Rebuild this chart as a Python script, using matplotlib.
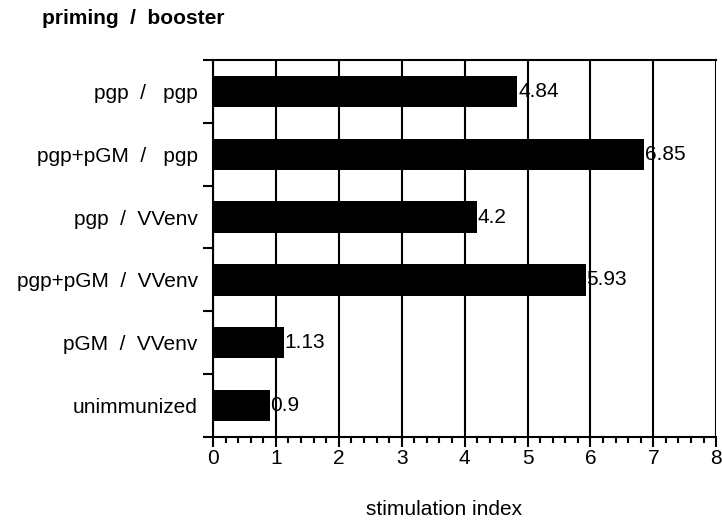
import numpy as np
import matplotlib.pyplot as plt
from matplotlib.ticker import MultipleLocator, FixedLocator

plt.rcParams['font.family'] = ['Liberation Sans', 'DejaVu Sans']

groups = ['pgp  /   pgp', 'pgp+pGM  /   pgp', 'pgp  /  VVenv',
          'pgp+pGM  /  VVenv', 'pGM  /  VVenv', 'unimmunized']
values = [4.84, 6.85, 4.2, 5.93, 1.13, 0.9]
value_labels = ['4.84', '6.85', '4.2', '5.93', '1.13', '0.9']

fs = 15

fig = plt.figure(figsize=(7.22, 5.27), dpi=100)
ax = fig.add_axes([0.295, 0.171, 0.697, 0.715])

pos = np.arange(len(groups))
ax.barh(pos, values, height=0.5, color='black', zorder=3)

# value labels at bar ends
for p, v, s in zip(pos, values, value_labels):
    ax.text(v + 0.01, p, s, va='center', ha='left', fontsize=fs, zorder=4)

ax.set_xlim(0, 8)
ax.set_ylim(len(groups) - 0.5, -0.5)

ax.xaxis.set_major_locator(MultipleLocator(1))
ax.xaxis.set_minor_locator(MultipleLocator(0.2))
ax.grid(axis='x', which='major', color='black', linewidth=1.5, zorder=1)

ax.set_yticks(pos)
ax.set_yticklabels(groups, fontsize=fs)
ax.yaxis.set_minor_locator(FixedLocator(np.arange(-0.5, len(groups), 1.0)))
ax.tick_params(axis='y', which='major', length=0, pad=11)
ax.tick_params(axis='y', which='minor', length=7, width=1.5, direction='out')
ax.tick_params(axis='x', which='major', length=7, width=1.5, direction='out',
               labelsize=fs, pad=2)
ax.tick_params(axis='x', which='minor', length=4, width=1.5, direction='out')

for side in ['top', 'bottom', 'left', 'right']:
    ax.spines[side].set_linewidth(1.5)
ax.spines['right'].set_visible(False)

ax.set_xlabel('stimulation index', fontsize=fs)
ax.xaxis.set_label_coords(0.46, -0.168)
fig.text(0.058, 0.964, 'priming  /  booster', fontsize=fs, fontweight='bold',
         ha='left', va='center')

plt.savefig('out.png', dpi=100)
